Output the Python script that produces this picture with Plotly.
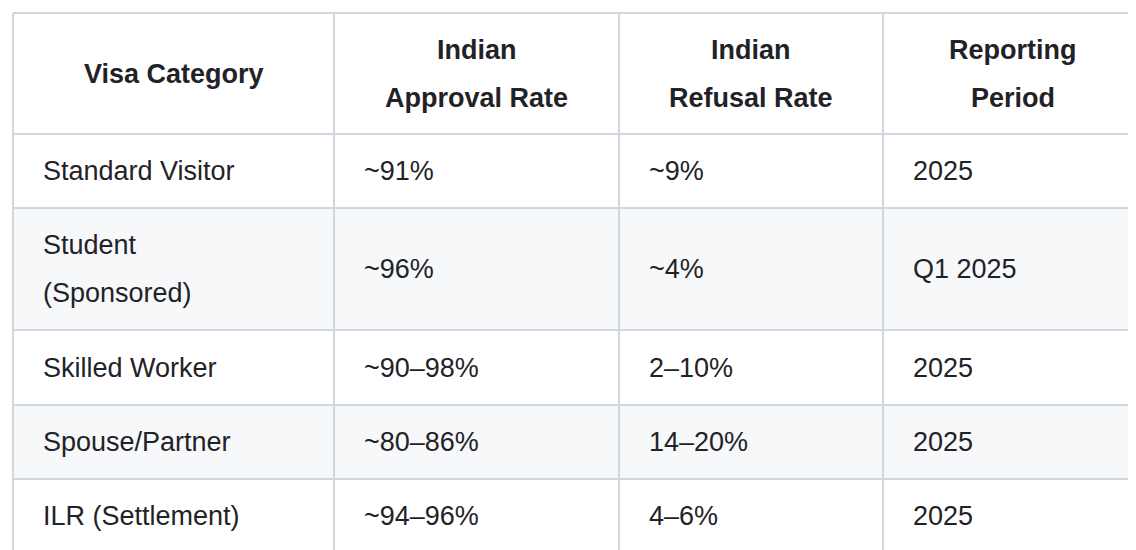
import plotly.graph_objects as go

headers = [["Visa Category"], ["Indian", "Approval Rate"], ["Indian", "Refusal Rate"], ["Reporting", "Period"]]
categories = [["Standard Visitor"], ["Student", "(Sponsored)"], ["Skilled Worker"], ["Spouse/Partner"], ["ILR (Settlement)"]]
approval = ["~91%", "~96%", "~90–98%", "~80–86%", "~94–96%"]
refusal = ["~9%", "~4%", "2–10%", "14–20%", "4–6%"]
period = ["2025", "Q1 2025", "2025", "2025", "2025"]

col_edges = [5, 326, 611, 875, 1134]
row_edges = [5, 126, 200, 322, 397, 471, 545]
border = "#d0d7de"
text_color = "#1f2328"
font = dict(family="Liberation Sans", size=27, color=text_color)
line_gap = 48

fig = go.Figure()
shapes = []
annotations = []

# row fills (striped)
for i in range(len(categories)):
    if i % 2 == 1:
        shapes.append(dict(type="rect", x0=col_edges[0], x1=col_edges[-1],
                           y0=row_edges[i + 1], y1=row_edges[i + 2],
                           fillcolor="#f6f8fa", line_width=0, layer="below"))

# grid lines
for x in col_edges:
    shapes.append(dict(type="line", x0=x, x1=x, y0=row_edges[0], y1=row_edges[-1],
                       line=dict(color=border, width=2)))
for y in row_edges:
    shapes.append(dict(type="line", x0=col_edges[0], x1=col_edges[-1], y0=y, y1=y,
                       line=dict(color=border, width=2)))


def add_lines(lines, c, r, header=False):
    yc = (row_edges[r] + row_edges[r + 1]) / 2
    n = len(lines)
    for k, t in enumerate(lines):
        y = yc + (k - (n - 1) / 2) * line_gap
        if header:
            x = (col_edges[c] + col_edges[c + 1]) / 2
            annotations.append(dict(x=x, y=y, text="<b>" + t + "</b>", showarrow=False,
                                    xanchor="center", yanchor="middle", font=font))
        else:
            annotations.append(dict(x=col_edges[c] + 28, y=y, text=t, showarrow=False,
                                    xanchor="left", yanchor="middle", font=font))


for c, h in enumerate(headers):
    add_lines(h, c, 0, header=True)

for i in range(len(categories)):
    add_lines(categories[i], 0, i + 1)
    add_lines([approval[i]], 1, i + 1)
    add_lines([refusal[i]], 2, i + 1)
    add_lines([period[i]], 3, i + 1)

fig.update_layout(
    width=1136, height=550,
    margin=dict(l=0, r=0, t=0, b=0),
    paper_bgcolor="#ffffff", plot_bgcolor="#ffffff",
    xaxis=dict(range=[0, 1136], visible=False, fixedrange=True),
    yaxis=dict(range=[550, 0], visible=False, fixedrange=True),
    shapes=shapes, annotations=annotations,
    showlegend=False,
)

fig.write_html("out.html")
